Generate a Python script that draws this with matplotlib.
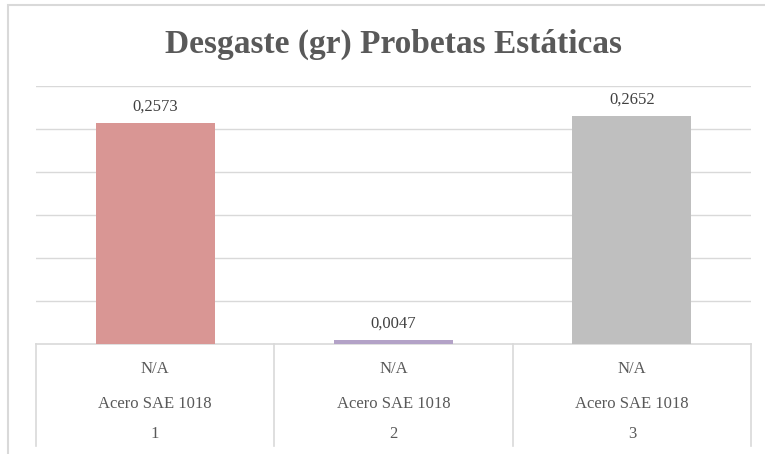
import matplotlib.pyplot as plt
from matplotlib.patches import Rectangle

# Datos de desgaste por probeta
probetas = ["1", "2", "3"]
material = ["Acero SAE 1018", "Acero SAE 1018", "Acero SAE 1018"]
condicion = ["N/A", "N/A", "N/A"]
desgaste = [0.2573, 0.0047, 0.2652]
colores = ["#D99694", "#B3A2C7", "#BFBFBF"]

plt.rcParams['font.family'] = ['Liberation Serif', 'DejaVu Serif']
gris_linea = "#D9D9D9"
gris_texto = "#595959"

fig = plt.figure(figsize=(7.65, 4.54), dpi=100)

# marco del grafico
fig.patches.append(Rectangle((8 / 765, -0.1), 1.2, 1 - 5 / 454 + 0.1,
                             transform=fig.transFigure, fill=False,
                             edgecolor=gris_linea, linewidth=1.5))

ax = fig.add_axes([36 / 765, 1 - 344 / 454, (751 - 36) / 765, (344 - 86) / 454])
x = list(range(len(desgaste)))
ax.bar(x, desgaste, width=0.5, color=colores, zorder=3)

ax.set_xlim(-0.5, 2.5)
ax.set_ylim(0, 0.3)
ax.set_yticks([0.05, 0.1, 0.15, 0.2, 0.25, 0.3])
ax.yaxis.grid(True, color=gris_linea, linewidth=1)
ax.set_axisbelow(True)
ax.tick_params(left=False, labelleft=False, bottom=False, labelbottom=False)
for s in ax.spines.values():
    s.set_visible(False)

# etiquetas de valor
for xi, v in zip(x, desgaste):
    ax.annotate(f"{v:.4f}".replace(".", ","), (xi, v), xytext=(0, 9),
                textcoords="offset points", ha="center", va="baseline",
                fontsize=12, color="#404040")

# eje de categorias en varios niveles
ax.plot([-0.5, 2.5], [0, 0], transform=ax.get_xaxis_transform(),
        color=gris_linea, linewidth=1.2, clip_on=False)
for xs in [-0.5, 0.5, 1.5, 2.5]:
    ax.plot([xs, xs], [0, -0.395], transform=ax.get_xaxis_transform(),
            color=gris_linea, linewidth=1.2, clip_on=False)
for xi in x:
    for etiqueta, yy in [(condicion[xi], -0.112), (material[xi], -0.248), (probetas[xi], -0.364)]:
        ax.text(xi, yy, etiqueta, transform=ax.get_xaxis_transform(),
                ha="center", va="baseline", fontsize=12, color=gris_texto)

fig.text(394 / 765, 1 - 53 / 454, "Desgaste (gr) Probetas Estáticas",
         ha="center", va="baseline", fontsize=24, fontweight="bold", color=gris_texto)

fig.savefig("out.png", dpi=100)
